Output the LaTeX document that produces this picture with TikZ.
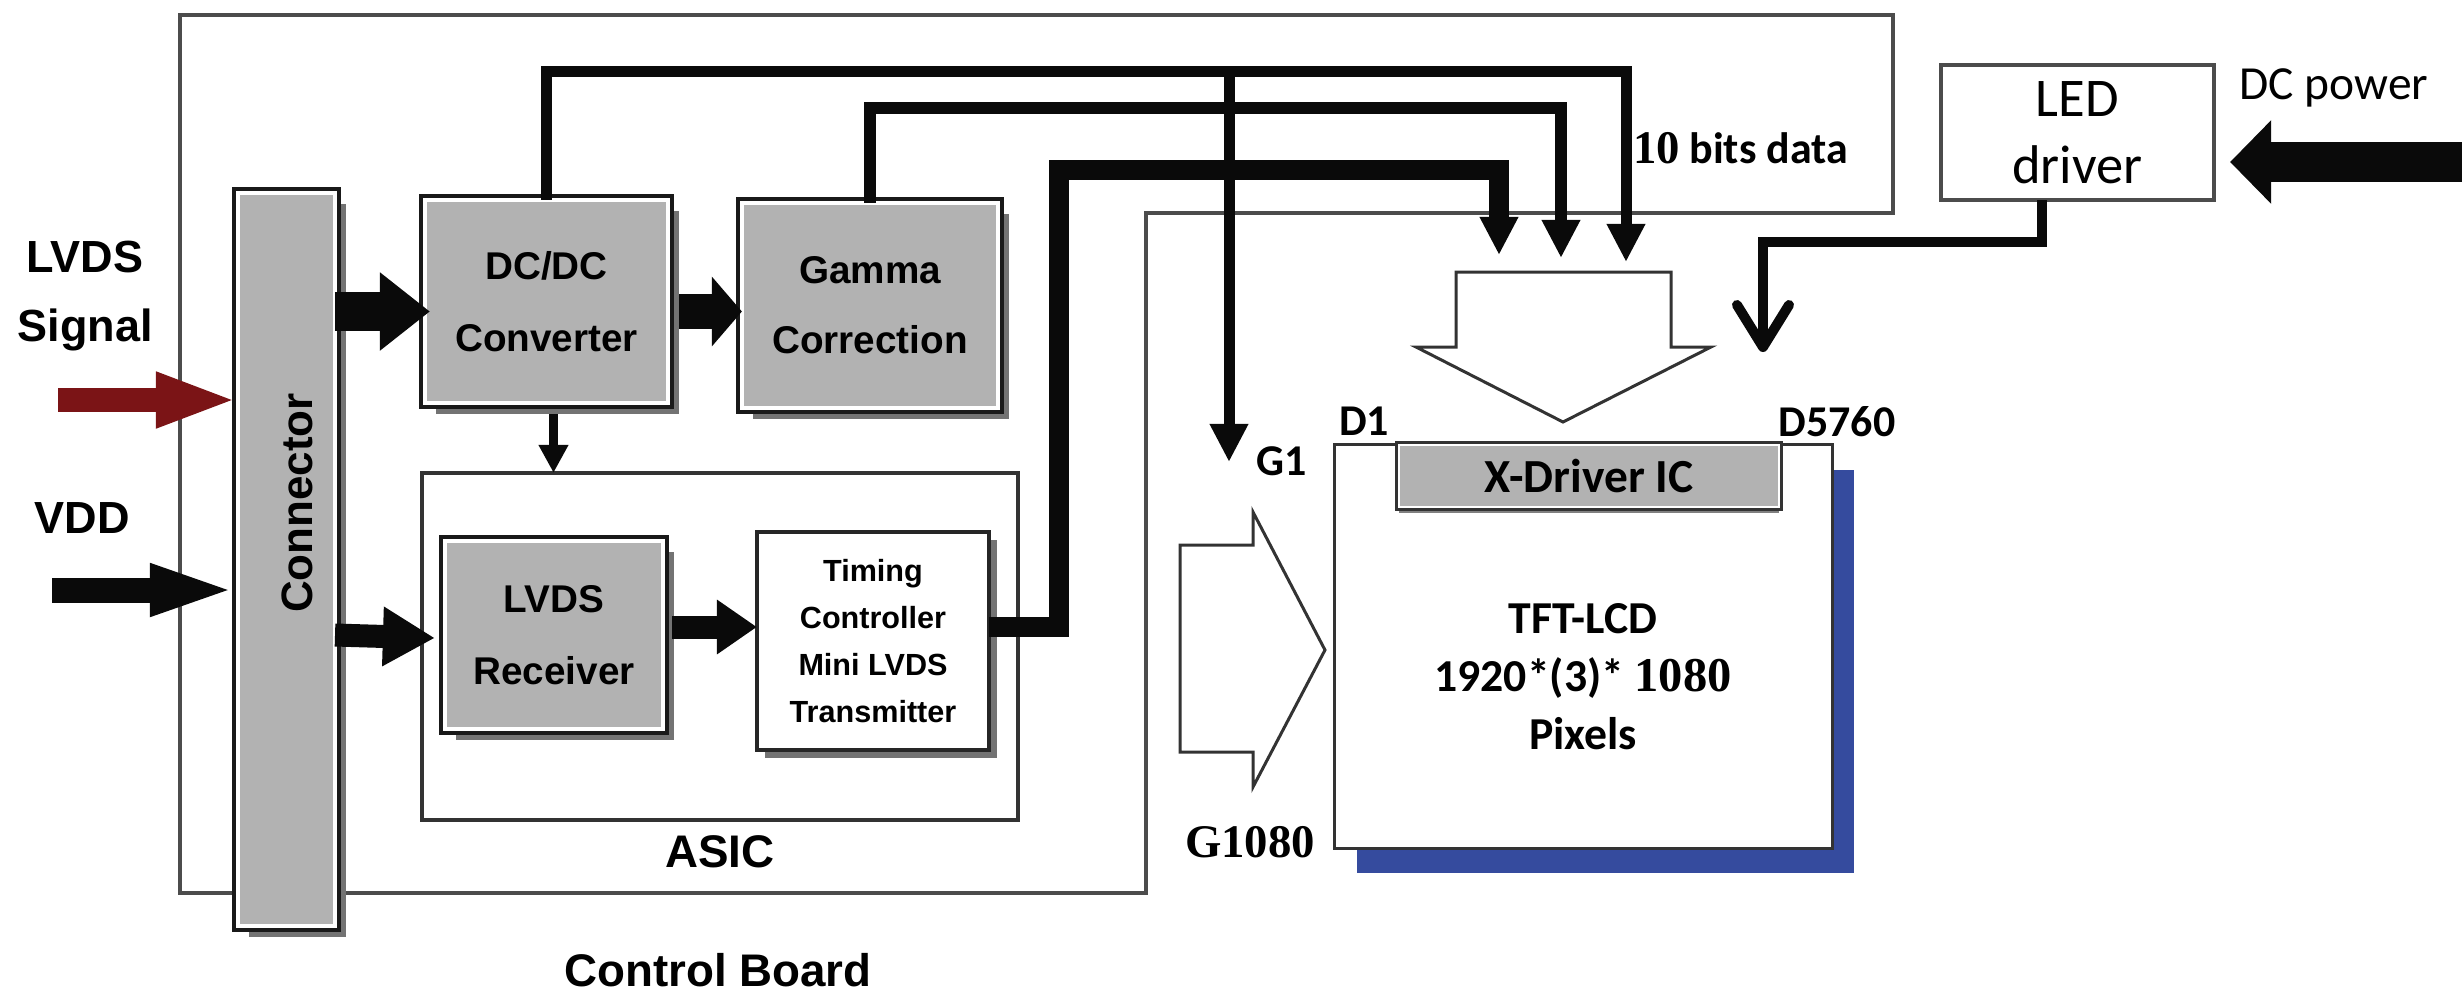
\documentclass[tikz,border=0pt]{standalone}
\usepackage{fontspec}
\setmainfont{Liberation Sans}
\newfontfamily\crl{Carlito}
\newfontfamily\tms{Liberation Serif}
\usetikzlibrary{arrows.meta,calc}
\definecolor{boxgray}{HTML}{B2B2B2}
\definecolor{lcdblue}{HTML}{354B9E}
\definecolor{sigred}{HTML}{7B1416}
\definecolor{ink}{HTML}{0A0A0A}
\begin{document}
\begin{tikzpicture}[x=0.01cm,y=-0.01cm,
 graybox/.style={draw=white, fill=boxgray, line width=0.04cm, inner sep=0pt, outer sep=0pt, align=center,
   preaction={fill=black!55, transform canvas={shift={(11,11)}}},
   preaction={draw=black!90, line width=0.12cm}},
 xbox/.style={draw=white, fill=boxgray, line width=0.025cm, inner sep=0pt, outer sep=0pt, align=center,
   preaction={fill=black!50, transform canvas={shift={(0,6)}}},
   preaction={draw=black!80, line width=0.07cm}},
 whitebox/.style={draw=black!85, fill=white, line width=0.04cm, inner sep=0pt, outer sep=0pt, align=center},
 shadowbox/.style={whitebox, preaction={fill=black!55, transform canvas={shift={(8,8)}}}},
 lcdbox/.style={draw=black!80, fill=white, line width=0.03cm, inner sep=0pt, outer sep=0pt,
   preaction={fill=lcdblue, transform canvas={shift={(22,25)}}}},
 boardline/.style={draw=black!70, line width=0.035cm},
 hollow/.style={draw=black!80, fill=white, line width=0.03cm, line join=miter},
 lbl/.style={inner sep=0pt, outer sep=0pt, align=center},
 blk/.style n args={3}{draw=ink, line width=#1cm, line cap=butt, -{Triangle[length=#2cm,width=#3cm]}},
 bus/.style={draw=ink, line width=#1cm, line join=miter, line cap=butt, -{Triangle[length=0.38cm,width=0.36cm]}},
 bus/.default=0.11,
 sf/.style={font=\fontsize{#1}{#1*1.2}\selectfont\bfseries},
]
\useasboundingbox (0,0) rectangle (2462,1002);

% control board outline
\draw[boardline] (180,15) -- (1893,15) -- (1893,213) -- (1146,213) -- (1146,893) -- (180,893) -- cycle;

% blocks
\node[graybox, minimum width=0.97cm, minimum height=7.33cm] (conn) at (286.5,559.5) {};
\node[graybox, minimum width=2.43cm, minimum height=2.03cm, font=\fontsize{11}{20.5}\selectfont\bfseries] (dcdc) at (546.5,301.5) {DC/DC\\Converter};
\node[graybox, minimum width=2.56cm, minimum height=2.05cm, font=\fontsize{11}{20}\selectfont\bfseries] (gamma) at (870,305.5) {Gamma\\Correction};
\node[whitebox, draw=black!80, line width=0.035cm, minimum width=5.96cm, minimum height=3.47cm] (asic) at (720,646.5) {};
\node[graybox, minimum width=2.18cm, minimum height=1.88cm, font=\fontsize{11}{20.5}\selectfont\bfseries] (rx) at (554,635) {LVDS\\Receiver};
\node[shadowbox, minimum width=2.32cm, minimum height=2.18cm, font=\fontsize{8.7}{13.4}\selectfont\bfseries] (tc) at (873,641) {Timing\\Controller\\Mini LVDS\\Transmitter};
\node[whitebox, draw=black!70, line width=0.035cm, minimum width=2.73cm, minimum height=1.35cm, font=\crl\fontsize{15.5}{19}\selectfont] (led) at (2077.5,132.5) {LED\\driver};
\node[lcdbox, minimum width=4.97cm, minimum height=4.03cm] (lcd) at (1583.5,646.5) {};
\node[xbox, minimum width=3.80cm, minimum height=0.62cm, font=\crl\bfseries\fontsize{13.5}{16}\selectfont] (xdrv) at (1589,476) {X-Driver IC};

% labels
\node[lbl, font=\fontsize{12.8}{19.4}\selectfont\bfseries] (lvdsl) at (85,296) {LVDS\\Signal};
\node[lbl, font=\fontsize{12.8}{15}\selectfont\bfseries] (vddl) at (82,518) {VDD};
\node[lbl, rotate=90, font=\fontsize{12.5}{15}\selectfont\bfseries] (connl) at (297,503) {Connector};
\node[lbl, font=\fontsize{13}{15}\selectfont\bfseries] (asicl) at (720,852) {ASIC};
\node[lbl, font=\fontsize{13}{15}\selectfont\bfseries] (cbl) at (718,970) {Control Board};
\node[lbl, anchor=west] (bitsl) at (1633,148) {{\tms\bfseries\fontsize{13.3}{16}\selectfont 10} {\crl\bfseries\fontsize{12.5}{15}\selectfont bits data}};
\node[lbl, font=\crl\fontsize{13.5}{16}\selectfont] (dcpl) at (2334,88) {DC power};
\node[lbl, font=\crl\bfseries\fontsize{12.5}{15}\selectfont] (d1l) at (1364,421) {D1};
\node[lbl, font=\crl\bfseries\fontsize{12.5}{15}\selectfont] (g1l) at (1282,461) {G1};
\node[lbl, font=\crl\bfseries\fontsize{12.5}{15}\selectfont] (d5760l) at (1837,422) {D5760};
\node[lbl, font=\tms\bfseries\fontsize{13.3}{16}\selectfont] (g1080l) at (1250,842) {G1080};
\node[lbl, font=\crl\bfseries\fontsize{13}{16.5}\selectfont] (lcdt) at (1583,677) {TFT-LCD\\1920*(3)* {\tms\fontsize{13.8}{16.5}\selectfont 1080}\\Pixels};

% hollow arrows
\draw[hollow] (1456,272) -- (1671,272) -- (1671,347) -- (1711,347) -- (1563,422) -- (1416,347) -- (1456,347) -- cycle;
\draw[hollow] (1180,545) -- (1253,545) -- (1253,512) -- (1325,650) -- (1253,787) -- (1253,752) -- (1180,752) -- cycle;

% input arrows
\coordinate (lvdsin) at (58,400);
\coordinate (vddin) at (52,590);
\coordinate (dcin) at (2462,162);
\draw[blk={0.24}{0.82}{0.50}, draw=sigred] (lvdsin) -- (lvdsin -| conn.west);
\draw[blk={0.25}{0.88}{0.46}] (vddin) -- (vddin -| conn.west);
\draw[blk={0.40}{0.41}{0.81}, shorten >=0.16cm] (dcin) -- (dcin -| led.east);

% internal block arrows
\draw[blk={0.39}{0.50}{0.75}] ($(conn.east |- dcdc.west)+(0,10)$) -- ($(dcdc.west)+(5,10)$);
\draw[blk={0.23}{0.52}{0.56}] (conn.east |- rx.west) -- ($(rx.west)+(-10,3)$);
\draw[blk={0.35}{0.30}{0.68}] ($(dcdc.east)+(11,10)$) -- ($(gamma.west |- dcdc.east)+(0,10)$);
\draw[blk={0.23}{0.40}{0.52}] ($(rx.east)+(9,-8)$) -- ($(tc.west |- rx.east)+(0,-8)$);
\draw[draw=ink, line width=0.095cm, -{Triangle[length=0.28cm,width=0.28cm]}] ($(dcdc.south)+(7,11)$) -- ($(asic.north -| dcdc.south)+(7,0)$);

% data buses
\coordinate (t1) at (1626,262);
\coordinate (t2) at (1561,258);
\coordinate (t3) at (1499,255);
\coordinate (g1s) at (1229,66);
\coordinate (g1t) at (1229,462);
\draw[bus] (dcdc.north) -- ++(0,-128) -| (t1);
\draw[bus=0.12] (gamma.north) -- ++(0,-95) -| (t2);
\draw[bus=0.20] ($(tc.east)+(0,-14)$) -- ++(70,0) -- ++(0,-457) -| (t3);
\draw[bus] (g1s) -- (g1t);

% LED driver to backlight
\coordinate (ledt) at (1763,352);
\draw[draw=ink, line width=0.10cm, line join=miter, -{Straight Barb[length=0.42cm,width=0.52cm,line width=0.10cm,round]}] ($(led.south)+(-36,0)$) -- ++(0,42) -| (ledt);
\end{tikzpicture}
\end{document}
